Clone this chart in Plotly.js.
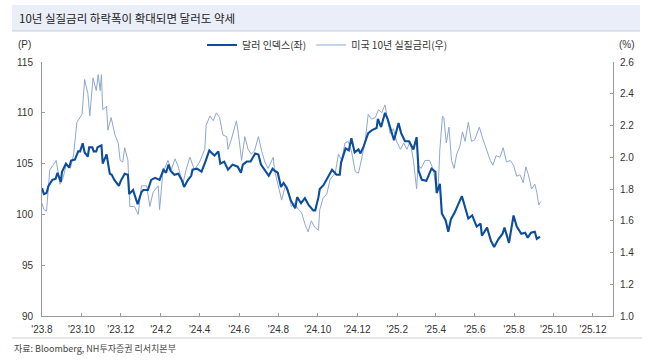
<!DOCTYPE html>
<html>
<head>
<meta charset="utf-8">
<script src="https://cdn.plot.ly/plotly-3.0.1.min.js"></script>
<style>html,body{margin:0;padding:0;background:#fff;}#chart{width:670px;height:364px;}</style>
</head>
<body>
<div id="chart"></div>
<script>
// ---- Data ----
const chartTitle = "10년 실질금리 하락폭이 확대되면 달러도 약세";
const seriesDollarName = "달러 인덱스(좌)";
const seriesRealName = "미국 10년 실질금리(우)";
const sourceText = "자료: Bloomberg, NH투자증권 리서치본부";

const dollarDates = ["2023-08-01","2023-08-04","2023-08-08","2023-08-11","2023-08-17","2023-08-22","2023-08-25","2023-08-30","2023-09-01","2023-09-07","2023-09-12","2023-09-15","2023-09-21","2023-09-26","2023-09-29","2023-10-03","2023-10-06","2023-10-11","2023-10-13","2023-10-18","2023-10-20","2023-10-24","2023-10-26","2023-11-01","2023-11-03","2023-11-09","2023-11-14","2023-11-17","2023-11-21","2023-11-28","2023-12-01","2023-12-07","2023-12-12","2023-12-14","2023-12-20","2023-12-27","2024-01-02","2024-01-05","2024-01-12","2024-01-17","2024-01-23","2024-01-30","2024-02-02","2024-02-05","2024-02-09","2024-02-13","2024-02-16","2024-02-22","2024-02-28","2024-03-05","2024-03-08","2024-03-14","2024-03-19","2024-03-21","2024-03-28","2024-04-04","2024-04-10","2024-04-16","2024-04-19","2024-04-24","2024-04-30","2024-05-03","2024-05-09","2024-05-15","2024-05-22","2024-05-30","2024-06-04","2024-06-07","2024-06-13","2024-06-19","2024-06-26","2024-07-01","2024-07-05","2024-07-11","2024-07-17","2024-07-23","2024-07-26","2024-07-31","2024-08-05","2024-08-09","2024-08-14","2024-08-20","2024-08-27","2024-08-30","2024-09-05","2024-09-11","2024-09-17","2024-09-24","2024-09-27","2024-10-02","2024-10-04","2024-10-10","2024-10-16","2024-10-23","2024-10-30","2024-11-04","2024-11-06","2024-11-13","2024-11-18","2024-11-22","2024-11-27","2024-12-03","2024-12-06","2024-12-11","2024-12-18","2024-12-24","2024-12-31","2025-01-02","2025-01-07","2025-01-13","2025-01-17","2025-01-23","2025-01-27","2025-02-03","2025-02-07","2025-02-13","2025-02-19","2025-02-26","2025-03-03","2025-03-06","2025-03-11","2025-03-18","2025-03-26","2025-04-01","2025-04-03","2025-04-08","2025-04-11","2025-04-17","2025-04-21","2025-04-25","2025-05-01","2025-05-12","2025-05-16","2025-05-22","2025-05-28","2025-06-04","2025-06-10","2025-06-12","2025-06-20","2025-06-26","2025-07-01","2025-07-07","2025-07-14","2025-07-17","2025-07-24","2025-07-31","2025-08-05","2025-08-12","2025-08-18","2025-08-22","2025-08-27","2025-09-02","2025-09-05","2025-09-10"];
const dollarValues = [102.6,102.0,102.1,102.8,103.4,103.5,104.1,103.2,104.2,105.0,104.6,105.3,105.4,106.2,106.2,107.0,106.1,105.7,106.6,106.6,106.2,106.2,106.6,106.8,105.0,105.9,104.0,103.9,103.4,102.8,103.3,104.0,103.9,102.0,102.4,101.0,102.2,102.4,102.4,103.4,103.6,103.4,103.9,104.4,104.1,104.9,104.3,103.9,104.0,103.3,102.7,103.4,103.8,104.4,104.5,104.2,105.2,106.3,106.1,105.8,106.2,105.0,105.2,104.4,104.9,104.7,104.1,104.9,105.2,105.2,106.0,105.9,104.9,104.4,103.8,104.5,104.3,104.1,102.7,103.1,102.6,101.4,100.6,101.7,101.1,101.6,100.9,100.4,100.4,101.7,102.5,102.9,103.6,104.4,103.9,103.9,105.1,106.5,106.3,107.5,106.1,106.4,106.0,106.7,108.0,108.3,108.5,109.4,108.6,110.0,109.4,108.1,107.3,109.0,108.0,107.2,107.2,106.4,107.6,104.3,103.4,103.3,104.5,104.2,102.1,103.0,100.1,99.4,98.3,99.5,100.2,101.8,100.9,99.6,99.9,98.8,99.1,97.9,98.7,97.4,96.8,97.5,98.1,98.7,97.2,99.9,98.8,98.1,98.2,97.7,98.2,98.3,97.6,97.8];

const realDates = ["2023-08-01","2023-08-04","2023-08-08","2023-08-13","2023-08-18","2023-08-23","2023-08-29","2023-09-02","2023-09-08","2023-09-14","2023-09-19","2023-09-21","2023-09-24","2023-10-02","2023-10-04","2023-10-06","2023-10-11","2023-10-14","2023-10-19","2023-10-24","2023-10-27","2023-10-30","2023-11-01","2023-11-03","2023-11-09","2023-11-11","2023-11-16","2023-11-22","2023-11-27","2023-11-30","2023-12-04","2023-12-07","2023-12-12","2023-12-15","2023-12-22","2023-12-28","2024-01-02","2024-01-10","2024-01-15","2024-01-20","2024-01-28","2024-01-30","2024-02-04","2024-02-12","2024-02-17","2024-02-23","2024-02-28","2024-03-06","2024-03-11","2024-03-17","2024-03-24","2024-04-01","2024-04-09","2024-04-11","2024-04-17","2024-04-22","2024-04-27","2024-05-02","2024-05-07","2024-05-13","2024-05-15","2024-05-20","2024-05-28","2024-05-31","2024-06-05","2024-06-10","2024-06-15","2024-06-20","2024-06-25","2024-07-01","2024-07-06","2024-07-11","2024-07-16","2024-07-21","2024-07-24","2024-07-26","2024-08-01","2024-08-06","2024-08-11","2024-08-16","2024-08-21","2024-08-26","2024-09-01","2024-09-06","2024-09-11","2024-09-16","2024-09-21","2024-09-26","2024-10-02","2024-10-04","2024-10-09","2024-10-15","2024-10-20","2024-10-28","2024-11-02","2024-11-07","2024-11-12","2024-11-17","2024-11-22","2024-11-28","2024-12-03","2024-12-08","2024-12-13","2024-12-18","2024-12-23","2024-12-29","2025-01-03","2025-01-08","2025-01-13","2025-01-16","2025-01-21","2025-01-26","2025-01-31","2025-02-06","2025-02-11","2025-02-16","2025-02-21","2025-02-26","2025-03-03","2025-03-05","2025-03-10","2025-03-16","2025-03-23","2025-03-29","2025-04-03","2025-04-05","2025-04-08","2025-04-12","2025-04-14","2025-04-18","2025-04-22","2025-04-26","2025-04-30","2025-05-04","2025-05-09","2025-05-13","2025-05-17","2025-05-22","2025-05-27","2025-06-01","2025-06-08","2025-06-14","2025-06-19","2025-06-25","2025-06-29","2025-07-04","2025-07-10","2025-07-15","2025-07-20","2025-07-26","2025-07-31","2025-08-05","2025-08-10","2025-08-15","2025-08-19","2025-08-23","2025-08-28","2025-09-02","2025-09-05","2025-09-08","2025-09-11"];
const realValues = [1.71,1.67,1.66,1.92,1.95,1.98,1.83,1.86,1.96,1.93,2.02,2.11,2.22,2.27,2.42,2.49,2.40,2.26,2.50,2.42,2.52,2.42,2.52,2.30,2.32,2.17,2.25,2.14,2.09,1.98,1.97,2.06,1.98,1.69,1.69,1.64,1.82,1.82,1.69,1.78,1.82,1.67,1.90,1.98,1.92,1.99,1.94,1.83,1.92,2.00,1.92,1.97,2.05,2.20,2.26,2.23,2.28,2.25,2.14,2.13,2.05,2.11,2.23,2.15,1.98,2.13,2.05,2.02,2.04,2.13,2.04,1.97,1.93,1.98,2.00,1.92,1.81,1.73,1.81,1.80,1.69,1.71,1.67,1.65,1.58,1.53,1.60,1.56,1.54,1.67,1.74,1.77,1.86,1.90,2.02,1.98,2.09,2.10,2.04,1.91,1.90,2.00,2.09,2.27,2.24,2.25,2.30,2.28,2.33,2.26,2.15,2.18,2.10,2.05,2.09,2.05,2.10,1.98,1.80,1.95,1.93,1.98,1.98,1.92,1.78,1.78,2.05,2.26,2.25,2.09,2.19,1.98,1.93,2.02,2.07,2.16,2.10,2.22,2.10,2.11,2.19,2.11,2.05,1.98,1.95,2.01,2.00,2.06,1.97,1.98,1.95,1.88,1.89,1.84,1.94,1.89,1.80,1.83,1.78,1.70,1.72];

const xTickVals = ["2023-08-01","2023-10-01","2023-12-01","2024-02-01","2024-04-01","2024-06-01","2024-08-01","2024-10-01","2024-12-01","2025-02-01","2025-04-01","2025-06-01","2025-08-01","2025-10-01","2025-12-01"];
const xTickText = ["'23.8","'23.10","'23.12","'24.2","'24.4","'24.6","'24.8","'24.10","'24.12","'25.2","'25.4","'25.6","'25.8","'25.10","'25.12"];
const leftTicks = [90,95,100,105,110,115];
const rightTicks = [1.0,1.2,1.4,1.6,1.8,2.0,2.2,2.4,2.6];

// ---- Styling ----
const numFont = {family: "Liberation Sans, Arial, sans-serif", size: 10, color: "#333"};
const krFont = "Noto Sans CJK KR, sans-serif";
const axisCol = "#9a9a9a";

const traces = [
  {x: realDates, y: realValues, name: seriesRealName, type: "scatter", mode: "lines",
   yaxis: "y", line: {color: "#8fa7d2", width: 1}, legendrank: 2},
  {x: dollarDates, y: dollarValues, name: seriesDollarName, type: "scatter", mode: "lines",
   yaxis: "y2", line: {color: "#0c4d9c", width: 2.1}, legendrank: 1}
];

const layout = {
  width: 670, height: 364,
  margin: {l: 42, r: 57, t: 62, b: 48},
  paper_bgcolor: "#fff", plot_bgcolor: "#fff",
  showlegend: true,
  legend: {orientation: "h", x: 0.5, xanchor: "center", y: 1.067, yanchor: "middle",
           font: {family: krFont, size: 10, color: "#333"}, bgcolor: "rgba(0,0,0,0)",
           traceorder: "normal", itemwidth: 30, tracegroupgap: 0},
  xaxis: {type: "date", range: ["2023-08-01","2026-01-01"], tickmode: "array",
          tickvals: xTickVals, ticktext: xTickText, ticks: "inside", ticklen: 3,
          tickcolor: axisCol, showline: true, linecolor: axisCol, linewidth: 1,
          showgrid: false, zeroline: false, tickfont: numFont, ticklabelstandoff: 4, fixedrange: true},
  yaxis: {side: "right", range: [1.0, 2.6], tickmode: "array", tickvals: rightTicks,
          ticktext: rightTicks.map(v => v.toFixed(1)), ticks: "inside", ticklen: 3,
          tickcolor: axisCol, showline: true, linecolor: axisCol, linewidth: 1,
          showgrid: false, zeroline: false, tickfont: numFont, ticklabelstandoff: 4},
  yaxis2: {overlaying: "y", side: "left", range: [90, 115], tickmode: "array",
           tickvals: leftTicks, ticks: "inside", ticklen: 3, tickcolor: axisCol,
           showline: true, linecolor: axisCol, linewidth: 1, showgrid: false,
           zeroline: false, tickfont: numFont, ticklabelstandoff: 6},
  shapes: [
    {type: "rect", xref: "paper", yref: "paper", x0: -0.0525, x1: 1.0473, y0: 1.122, y1: 1.2244,
     fillcolor: "#e9eef8", line: {width: 0}, layer: "below"},
    {type: "line", xref: "paper", yref: "paper", x0: -0.0525, x1: 1.0473, y0: 1.122, y1: 1.122,
     line: {color: "#c9cdd6", width: 1}},
    {type: "line", xref: "paper", yref: "paper", x0: -0.0525, x1: 1.0508, y0: -0.0866, y1: -0.0866,
     line: {color: "#d0d0d0", width: 1}}
  ],
  annotations: [
    {text: chartTitle, xref: "paper", yref: "paper", x: -0.0438, y: 1.173, xanchor: "left",
     yanchor: "middle", showarrow: false, font: {family: krFont, size: 11.5, color: "#222"}},
    {text: "(P)", xref: "paper", yref: "paper", x: -0.0298, y: 1.067, xanchor: "center",
     yanchor: "middle", showarrow: false, font: numFont},
    {text: "(%)", xref: "paper", yref: "paper", x: 1.0245, y: 1.067, xanchor: "center",
     yanchor: "middle", showarrow: false, font: numFont},
    {text: sourceText, xref: "paper", yref: "paper", x: -0.0525, y: -0.126, xanchor: "left",
     yanchor: "middle", showarrow: false, font: {family: krFont, size: 9, color: "#444"}}
  ]
};

Plotly.newPlot("chart", traces, layout, {staticPlot: true, displayModeBar: false});
</script>
</body>
</html>
